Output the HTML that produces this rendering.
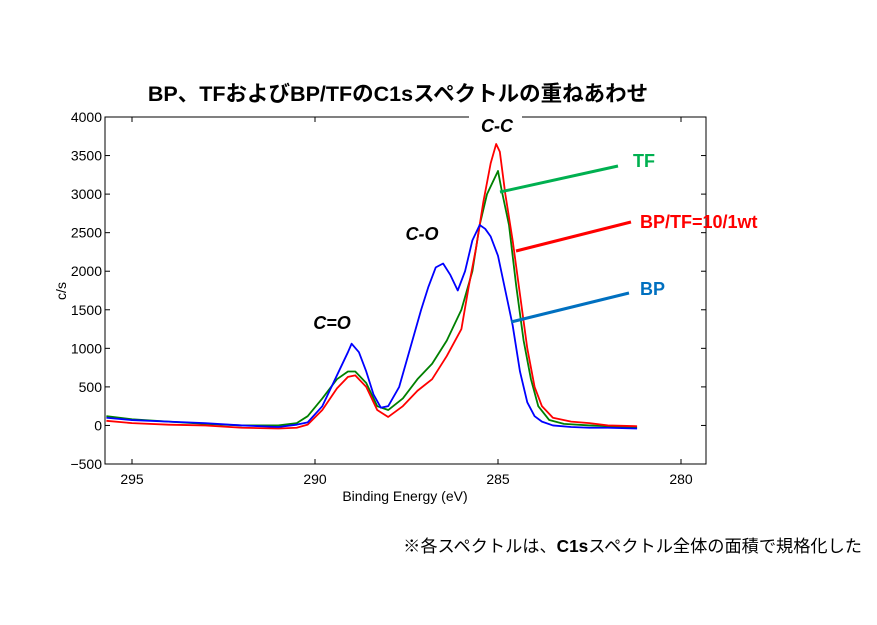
<!DOCTYPE html>
<html><head><meta charset="utf-8">
<style>
body{margin:0;background:#fff;width:877px;height:620px;overflow:hidden;font-family:"Liberation Sans","Noto Sans CJK JP",sans-serif;}
</style></head><body>
<svg id="chart" width="877" height="620" xmlns="http://www.w3.org/2000/svg" font-family="Liberation Sans, Noto Sans CJK JP, sans-serif">
<text x="398" y="101" text-anchor="middle" font-size="21.5" font-weight="bold">BP、TFおよびBP/TFのC1sスペクトルの重ねあわせ</text>
<g id="plot"></g>
<text x="405" y="501" text-anchor="middle" font-size="14">Binding Energy (eV)</text>
<text transform="translate(66,291) rotate(-90)" text-anchor="middle" font-size="14">c/s</text>
<text x="862" y="552" text-anchor="end" font-size="17.2">※各スペクトルは、<tspan font-weight="bold">C1s</tspan>スペクトル全体の面積で規格化した</text>
</svg>
<script>
const xTicks=[295,290,285,280];
const yTicks=[-500,0,500,1000,1500,2000,2500,3000,3500,4000];
const blueE=[295.7,295,294,293,292,291,290.5,290.2,289.8,289.4,289.1,289.0,288.8,288.6,288.4,288.2,288.0,287.7,287.4,287.1,286.9,286.7,286.5,286.3,286.1,285.9,285.7,285.5,285.35,285.2,285.0,284.8,284.6,284.4,284.2,284.0,283.8,283.5,283.0,282.5,282,281.2];
const blueV=[100,70,50,30,0,-20,10,40,250,650,950,1060,950,700,400,230,250,500,1000,1500,1800,2050,2100,1950,1750,2000,2400,2600,2550,2450,2200,1750,1300,700,300,120,50,0,-20,-30,-30,-40];
const greenE=[295.7,295,294,293,292,291,290.5,290.2,289.8,289.4,289.1,288.9,288.6,288.3,288.0,287.6,287.2,286.8,286.4,286.0,285.7,285.5,285.3,285.1,285.0,284.9,284.7,284.5,284.3,284.1,283.9,283.6,283.2,282.5,282,281.2];
const greenV=[120,80,50,20,0,0,30,120,350,600,700,700,550,250,200,350,600,800,1100,1500,2000,2600,3000,3200,3300,3050,2600,1800,1100,600,250,70,20,0,-10,-30];
const redE=[295.7,295,294,293,292,291,290.5,290.2,289.8,289.4,289.1,288.9,288.6,288.3,288.0,287.6,287.2,286.8,286.4,286.0,285.8,285.6,285.4,285.2,285.05,284.95,284.8,284.6,284.4,284.2,284.0,283.8,283.5,283.0,282.5,282,281.2];
const redV=[60,30,10,0,-30,-40,-30,10,200,480,630,650,500,200,110,250,450,600,900,1250,1800,2300,2900,3400,3650,3550,3000,2400,1700,1000,500,250,100,50,30,0,-10];
const ns="http://www.w3.org/2000/svg";
const L=105,R=706,T=117,B=464;
const xs=e=>132+(295-e)*36.6;
const ys=v=>T+(4000-v)*(B-T)/4500;
const g=document.getElementById('plot');
function mk(tag,at){const el=document.createElementNS(ns,tag);for(const k in at)el.setAttribute(k,at[k]);g.appendChild(el);return el;}
function series(E,V,color,name){
  const p=mk('polyline',{points:E.map((e,i)=>xs(e)+','+ys(V[i])).join(' '),fill:'none',stroke:color,'stroke-width':1.8,'stroke-linejoin':'round'});
  
  
}
series(greenE,greenV,'#008000','tf-line');
series(redE,redV,'#ff0000','bp-tf-line');
series(blueE,blueV,'#0000ff','bp-line');
const frame=mk('rect',{x:L,y:T,width:R-L,height:B-T,fill:'none',stroke:'#000','stroke-width':1});


xTicks.forEach(t=>{
  const x=xs(t);
  mk('line',{x1:x,y1:B,x2:x,y2:B-5,stroke:'#000'});
  mk('line',{x1:x,y1:T,x2:x,y2:T+5,stroke:'#000'});
  const tx=mk('text',{x:x,y:B+20,'text-anchor':'middle','font-size':14});
  tx.textContent=t;
  
  
});
yTicks.forEach(t=>{
  const y=ys(t);
  mk('line',{x1:L,y1:y,x2:L+5,y2:y,stroke:'#000'});
  mk('line',{x1:R,y1:y,x2:R-5,y2:y,stroke:'#000'});
  const tx=mk('text',{x:L-3,y:y+5,'text-anchor':'end','font-size':14});
  tx.textContent=String(t).replace('-','\u2212');
  
  
});
mk('rect',{x:469,y:110,width:53,height:14,fill:'#fff'});
function lab(x,y,txt,name,color,anchor){
  const t=mk('text',{x:x,y:y,'font-size':18,'font-weight':'bold',fill:color,'text-anchor':anchor||'middle'});
  t.textContent=txt;
  
  
  return t;
}
const cc=lab(497,132,'C-C','c-c-label','#000');cc.setAttribute('font-style','italic');
const co=lab(422,240,'C-O','c-o-label','#000');co.setAttribute('font-style','italic');
const c2=lab(332,329,'C=O','c=o-label','#000');c2.setAttribute('font-style','italic');
const l1=mk('line',{x1:500,y1:192,x2:618,y2:166,stroke:'#00b050','stroke-width':3});


const l2=mk('line',{x1:516,y1:251,x2:631,y2:222,stroke:'#ff0000','stroke-width':3});


const l3=mk('line',{x1:511,y1:322,x2:629,y2:293,stroke:'#0070c0','stroke-width':3});


lab(633,167,'TF','tf-legend-label','#00b050','start');
lab(640,228,'BP/TF=10/1wt','bp-tf-legend-label','#ff0000','start');
lab(640,295,'BP','bp-legend-label','#0070c0','start');
</script>
</body></html>
